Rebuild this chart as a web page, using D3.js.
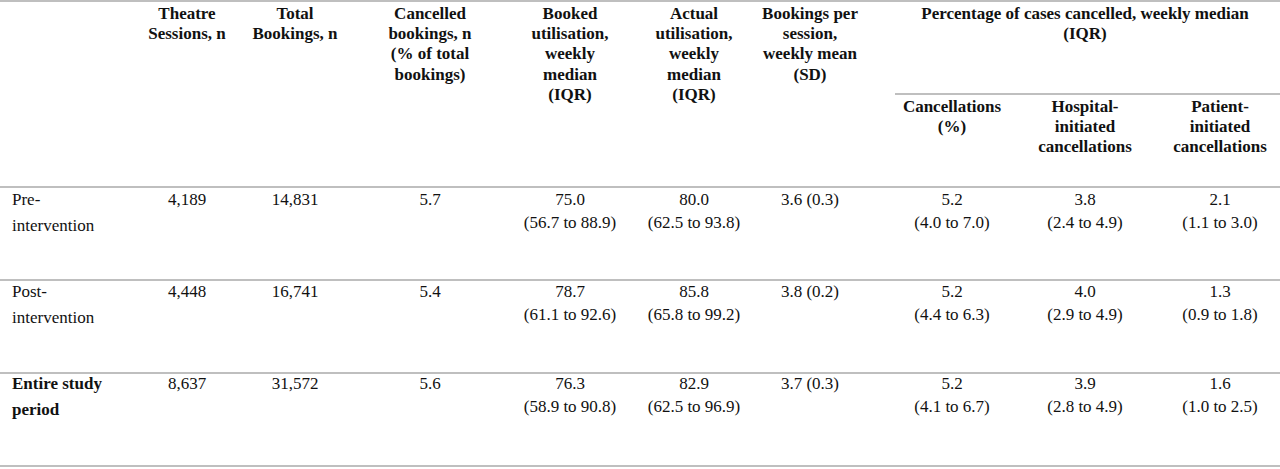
<!DOCTYPE html>
<html>
<head>
<meta charset="utf-8">
<script src="https://cdn.jsdelivr.net/npm/d3@7.9.0/dist/d3.min.js"></script>
<style>
  body { margin: 0; background: #fff; }
  text { font-family: "Liberation Serif", "Times New Roman", serif; fill: #111; }
</style>
</head>
<body>
<svg id="chart" width="1280" height="469"></svg>
<script>
/* ---------- data ---------- */
const columns = ['label', 'sessions', 'bookings', 'cancelled', 'booked', 'actual', 'perSession', 'cancel', 'hospital', 'patient'];

const headers = [
  [],
  ['Theatre', 'Sessions, n'],
  ['Total', 'Bookings, n'],
  ['Cancelled', 'bookings, n', '(% of total', 'bookings)'],
  ['Booked', 'utilisation,', 'weekly', 'median', '(IQR)'],
  ['Actual', 'utilisation,', 'weekly', 'median', '(IQR)'],
  ['Bookings per', 'session,', 'weekly mean', '(SD)'],
  ['Cancellations', '(%)'],
  ['Hospital-', 'initiated', 'cancellations'],
  ['Patient-', 'initiated', 'cancellations']
];
const groupHeader = ['Percentage of cases cancelled, weekly median', '(IQR)'];

const rowLabels = [['Pre-', 'intervention'], ['Post-', 'intervention'], ['Entire study', 'period']];
const rowBold = [false, false, true];

const sessions = ['4,189', '4,448', '8,637'];
const bookings = ['14,831', '16,741', '31,572'];
const cancelled = ['5.7', '5.4', '5.6'];
const booked = [['75.0', '(56.7 to 88.9)'], ['78.7', '(61.1 to 92.6)'], ['76.3', '(58.9 to 90.8)']];
const actual = [['80.0', '(62.5 to 93.8)'], ['85.8', '(65.8 to 99.2)'], ['82.9', '(62.5 to 96.9)']];
const perSession = ['3.6 (0.3)', '3.8 (0.2)', '3.7 (0.3)'];
const cancelPct = [['5.2', '(4.0 to 7.0)'], ['5.2', '(4.4 to 6.3)'], ['5.2', '(4.1 to 6.7)']];
const hospital = [['3.8', '(2.4 to 4.9)'], ['4.0', '(2.9 to 4.9)'], ['3.9', '(2.8 to 4.9)']];
const patient = [['2.1', '(1.1 to 3.0)'], ['1.3', '(0.9 to 1.8)'], ['1.6', '(1.0 to 2.5)']];

/* ---------- layout ---------- */
const colX = d3.scaleOrdinal()
  .domain(columns)
  .range([12, 187, 295, 430, 570, 694, 810, 952, 1085, 1220]);

const rowY = d3.scalePoint().domain([0, 1, 2]).range([205, 389]);
const rules = [1, 187, 280, 373, 466];
const svg = d3.select('#chart');

/* rules */
svg.selectAll('line.rule')
  .data(rules)
  .join('line')
  .attr('x1', 0).attr('x2', 1280)
  .attr('y1', d => d).attr('y2', d => d)
  .attr('stroke', '#aaa').attr('stroke-width', 1.3);

svg.append('line')
  .attr('x1', 895).attr('x2', 1280).attr('y1', 94).attr('y2', 94)
  .attr('stroke', '#aaa').attr('stroke-width', 1.3);

/* helper: multi-line text */
function lines(x, y, arr, step, bold, anchor) {
  const t = svg.append('text')
    .attr('x', x).attr('y', y)
    .attr('text-anchor', anchor || 'middle')
    .style('font-size', '17px')
    .style('font-weight', bold ? 'bold' : 'normal');
  t.selectAll('tspan')
    .data(arr)
    .join('tspan')
    .attr('x', x)
    .attr('y', (d, i) => y + i * step)
    .text(d => d);
}

/* headers */
headers.forEach((h, i) => {
  if (!h.length) return;
  const y = i >= 7 ? 112 : 19;
  lines(colX(columns[i]), y, h, 20.2, true);
});
lines(colX('hospital'), 19, groupHeader, 20.2, true);

/* body */
const bodyCols = [
  ['sessions', sessions], ['bookings', bookings], ['cancelled', cancelled],
  ['booked', booked], ['actual', actual], ['perSession', perSession],
  ['cancel', cancelPct], ['hospital', hospital], ['patient', patient]
];

rowLabels.forEach((lab, r) => {
  const y = rowY(r);
  lines(colX('label'), y, lab, 26, rowBold[r], 'start');
  bodyCols.forEach(([key, vals]) => {
    const v = vals[r];
    lines(colX(key), y, Array.isArray(v) ? v : [v], 23, false);
  });
});
</script>
</body>
</html>
